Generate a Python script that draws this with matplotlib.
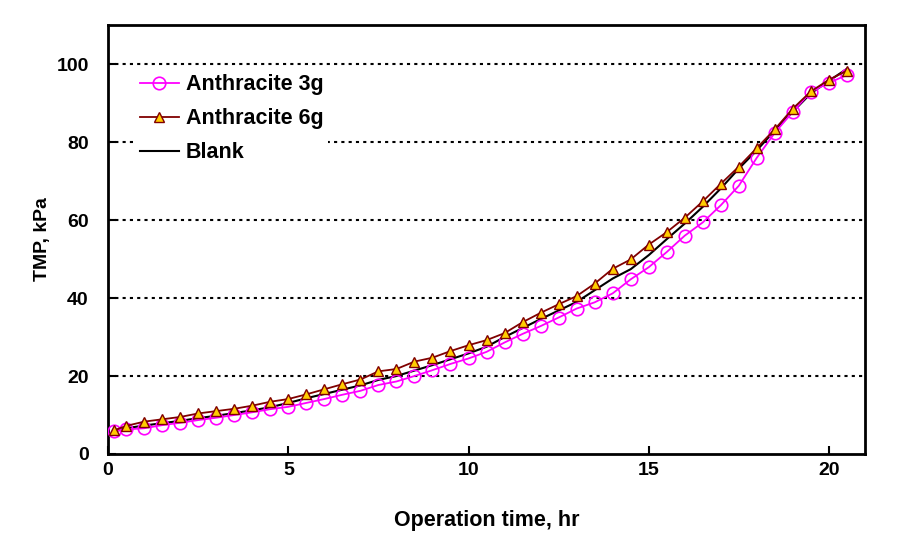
import matplotlib.pyplot as plt

plt.rcParams['font.family'] = ['Liberation Sans', 'DejaVu Sans']
plt.rcParams['font.weight'] = 'bold'

# operation time, hr
hours = [0.17, 0.5, 1.0, 1.5, 2.0, 2.5, 3.0, 3.5, 4.0, 4.5, 5.0, 5.5, 6.0, 6.5,
         7.0, 7.5, 8.0, 8.5, 9.0, 9.5, 10.0, 10.5, 11.0, 11.5, 12.0, 12.5, 13.0,
         13.5, 14.0, 14.5, 15.0, 15.5, 16.0, 16.5, 17.0, 17.5, 18.0, 18.5, 19.0,
         19.5, 20.0, 20.5]

# TMP, kPa
anthracite_3g = [5.9, 6.3, 6.6, 7.4, 8.0, 8.7, 9.3, 10.0, 10.7, 11.5, 12.1, 13.1,
                 14.1, 15.2, 16.2, 17.7, 18.6, 20.0, 21.5, 23.1, 24.5, 26.2, 28.6,
                 30.8, 32.8, 35.0, 37.3, 38.9, 41.2, 44.8, 47.9, 51.8, 56.0, 59.4,
                 63.8, 68.8, 76.0, 82.4, 87.8, 92.9, 95.2, 97.2]
anthracite_6g = [6.1, 7.2, 8.3, 8.9, 9.5, 10.4, 11.0, 11.6, 12.4, 13.4, 14.1, 15.3,
                 16.6, 17.9, 19.1, 21.2, 21.8, 23.7, 24.7, 26.4, 27.9, 29.2, 31.0,
                 33.8, 36.2, 38.4, 40.5, 43.7, 47.5, 49.9, 53.7, 56.9, 60.6, 64.8,
                 69.3, 73.7, 78.5, 83.3, 88.6, 93.0, 96.0, 98.3]
blank = [5.8, 6.6, 7.3, 7.9, 8.5, 9.2, 9.8, 10.5, 11.2, 12.0, 13.1, 14.3, 15.4,
         16.5, 17.6, 19.0, 20.0, 21.4, 22.8, 24.3, 25.8, 27.5, 30.0, 32.3, 34.6,
         36.8, 39.0, 42.0, 45.0, 47.4, 51.0, 55.1, 59.1, 63.4, 68.1, 73.2, 77.9,
         83.0, 87.8, 92.5, 95.7, 98.8]

fig = plt.figure(figsize=(9.01, 5.46), dpi=100)
ax = fig.add_axes([0.12, 0.1685, 0.84, 0.7855])

for y in range(20, 101, 20):
    ax.axhline(y, color='black', lw=1.5, linestyle=(0, (1.5, 2)), zorder=1)

ax.plot(hours, anthracite_3g, color='#FF00FF', lw=1.3, marker='o', ms=9,
        mfc='none', mec='#FF00FF', mew=1.2, label='Anthracite 3g', zorder=3)
ax.plot(hours, anthracite_6g, color='#800000', lw=1.3, marker='^', ms=7.5,
        mfc='#FFCC00', mec='#800000', mew=1.0, label='Anthracite 6g', zorder=4)
ax.plot(hours, blank, color='black', lw=1.5, label='Blank', zorder=2)

ax.set_xlim(0, 21)
ax.set_ylim(0, 110)
ax.set_xticks([0, 5, 10, 15, 20])
ax.set_yticks([0, 20, 40, 60, 80, 100])
ax.tick_params(direction='in', length=6, width=1.5, labelsize=14)
ax.tick_params(axis='y', pad=14)
ax.tick_params(axis='x', pad=6)
for s in ax.spines.values():
    s.set_linewidth(2)

ax.set_xlabel('Operation time, hr', fontsize=15.5, fontweight='bold', labelpad=22)
ax.set_ylabel('TMP, kPa', fontsize=14, fontweight='bold', labelpad=4)

leg = ax.legend(loc='upper left', bbox_to_anchor=(0.022, 0.92), frameon=True,
                fontsize=15.5, handlelength=1.8, handletextpad=0.35,
                labelspacing=0.6, borderpad=0.2)
leg.get_frame().set_edgecolor('none')
leg.get_frame().set_facecolor('white')
leg.get_frame().set_alpha(1)

fig.savefig('out.png', dpi=100)
